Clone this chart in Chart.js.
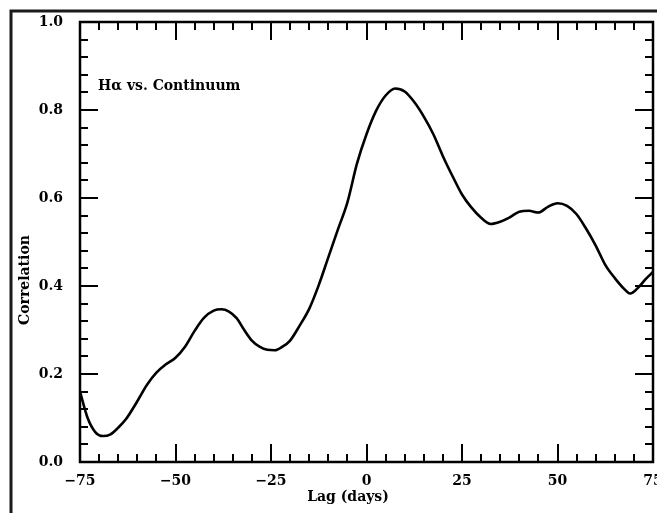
<!DOCTYPE html>
<html>
<head>
<meta charset="utf-8">
<script src="https://cdn.jsdelivr.net/npm/chart.js@4/dist/chart.umd.min.js"></script>
<style>
  html, body { margin: 0; padding: 0; background: #fff; }
  canvas { display: block; }
</style>
</head>
<body>
<canvas id="ccf" width="657" height="513"></canvas>
<script>
// Cross-correlation of H-alpha against continuum, lag in days
const lags = [
  -75, -73, -71, -69, -67, -65, -63, -60, -57.5, -55, -52.5, -50, -47.5, -45, -42.5,
  -40, -38, -36, -34, -32, -30, -28, -26, -24, -22, -20, -17.5, -15, -12.5, -10,
  -7.5, -5, -2.5, 0, 2.5, 5, 7.5, 10, 12.5, 15, 17.5, 20, 22.5, 25, 27.5,
  30, 32.5, 35, 37.5, 40, 42.5, 45, 47.5, 50, 52.5, 55, 57.5, 60, 62.5, 65,
  67.5, 69, 71.5, 73, 75,
];
const corr = [
  0.160, 0.100, 0.068, 0.059, 0.063, 0.078, 0.097, 0.138, 0.175, 0.203, 0.222, 0.237, 0.262, 0.298, 0.328,
  0.344, 0.347, 0.342, 0.327, 0.300, 0.276, 0.262, 0.255, 0.254, 0.262, 0.276, 0.310, 0.348, 0.402, 0.465,
  0.528, 0.590, 0.678, 0.745, 0.798, 0.833, 0.849, 0.842, 0.818, 0.785, 0.745, 0.695, 0.650, 0.608, 0.578,
  0.555, 0.541, 0.546, 0.556, 0.569, 0.571, 0.567, 0.580, 0.588, 0.582, 0.563, 0.530, 0.492, 0.448, 0.418,
  0.393, 0.383, 0.400, 0.415, 0.432,
];

const xMajor = 25, xMinor = 5;
const yMajor = 0.2, yMinor = 0.04;
const FONT = '"DejaVu Serif", serif';

// inward tick marks on all four sides, old plotting-package style
const frameTicks = {
  id: 'frameTicks',
  afterDatasetsDraw(chart) {
    const { ctx, chartArea: a, scales: { x, y } } = chart;
    const seg = (x1, y1, x2, y2) => { ctx.beginPath(); ctx.moveTo(x1, y1); ctx.lineTo(x2, y2); ctx.stroke(); };
    ctx.save();
    ctx.strokeStyle = '#000';
    ctx.lineWidth = 2;
    const nx = Math.round((x.max - x.min) / xMinor);
    for (let i = 0; i <= nx; i++) {
      const v = x.min + i * xMinor;
      const px = Math.round(x.getPixelForValue(v));
      const len = i % (xMajor / xMinor) === 0 ? 18 : 8;
      seg(px, a.bottom, px, a.bottom - len);
      seg(px, a.top, px, a.top + len);
    }
    const ny = Math.round((y.max - y.min) / yMinor);
    for (let i = 0; i <= ny; i++) {
      const v = y.min + i * yMinor;
      const py = Math.round(y.getPixelForValue(v));
      const len = i % 5 === 0 ? 18 : 8;
      seg(a.left, py, a.left + len, py);
      seg(a.right, py, a.right - len, py);
    }
    ctx.lineWidth = 2.5;
    ctx.strokeRect(a.left, a.top, a.right - a.left, a.bottom - a.top);
    ctx.restore();
  },
};

// outer border, axis titles and the panel label
const annotate = {
  id: 'annotate',
  beforeDraw(chart) {
    const { ctx, width, height } = chart;
    ctx.save();
    ctx.strokeStyle = '#1a1a1a';
    ctx.lineWidth = 3;
    ctx.beginPath();
    ctx.moveTo(11, height);
    ctx.lineTo(11, 11);
    ctx.lineTo(width, 11);
    ctx.stroke();
    ctx.restore();
  },
  afterDraw(chart) {
    const { ctx } = chart;
    ctx.save();
    ctx.fillStyle = '#000';
    ctx.font = `bold 14px ${FONT}`;
    ctx.textBaseline = 'middle';
    ctx.textAlign = 'left';
    ctx.fillText('Hα vs. Continuum', 98, 86);
    ctx.textAlign = 'center';
    ctx.fillText('Lag (days)', 348, 497);
    ctx.translate(25, 280);
    ctx.rotate(-Math.PI / 2);
    ctx.fillText('Correlation', 0, 0);
    ctx.restore();
  },
};

new Chart(document.getElementById('ccf'), {
  type: 'line',
  data: {
    datasets: [{
      data: lags.map((l, i) => ({ x: l, y: corr[i] })),
      borderColor: '#000',
      borderWidth: 2.6,
      pointRadius: 0,
      tension: 0.4,
      cubicInterpolationMode: 'monotone',
      fill: false,
    }],
  },
  options: {
    responsive: false,
    animation: false,
    layout: { padding: { top: 22, right: 4, left: 0, bottom: 0 } },
    plugins: { legend: { display: false }, tooltip: { enabled: false } },
    scales: {
      x: {
        type: 'linear',
        min: -75, max: 75,
        grid: { display: false, drawTicks: false },
        border: { display: false },
        ticks: {
          stepSize: xMajor,
          padding: 11,
          color: '#000',
          font: { family: FONT, size: 14, weight: 'bold' },
          maxRotation: 0,
          callback: v => (v < 0 ? '\u2212' + Math.abs(v) : String(v)),
        },
        afterFit(s) { s.height = 51; s.paddingLeft = 0; s.paddingRight = 0; },
      },
      y: {
        min: 0, max: 1,
        grid: { display: false, drawTicks: false },
        border: { display: false },
        ticks: {
          stepSize: yMajor,
          padding: 17,
          color: '#000',
          font: { family: FONT, size: 14, weight: 'bold' },
          callback: v => v.toFixed(1),
        },
        afterFit(s) { s.width = 80; s.paddingTop = 0; s.paddingBottom = 0; },
      },
    },
  },
  plugins: [annotate, frameTicks],
});
</script>
</body>
</html>
